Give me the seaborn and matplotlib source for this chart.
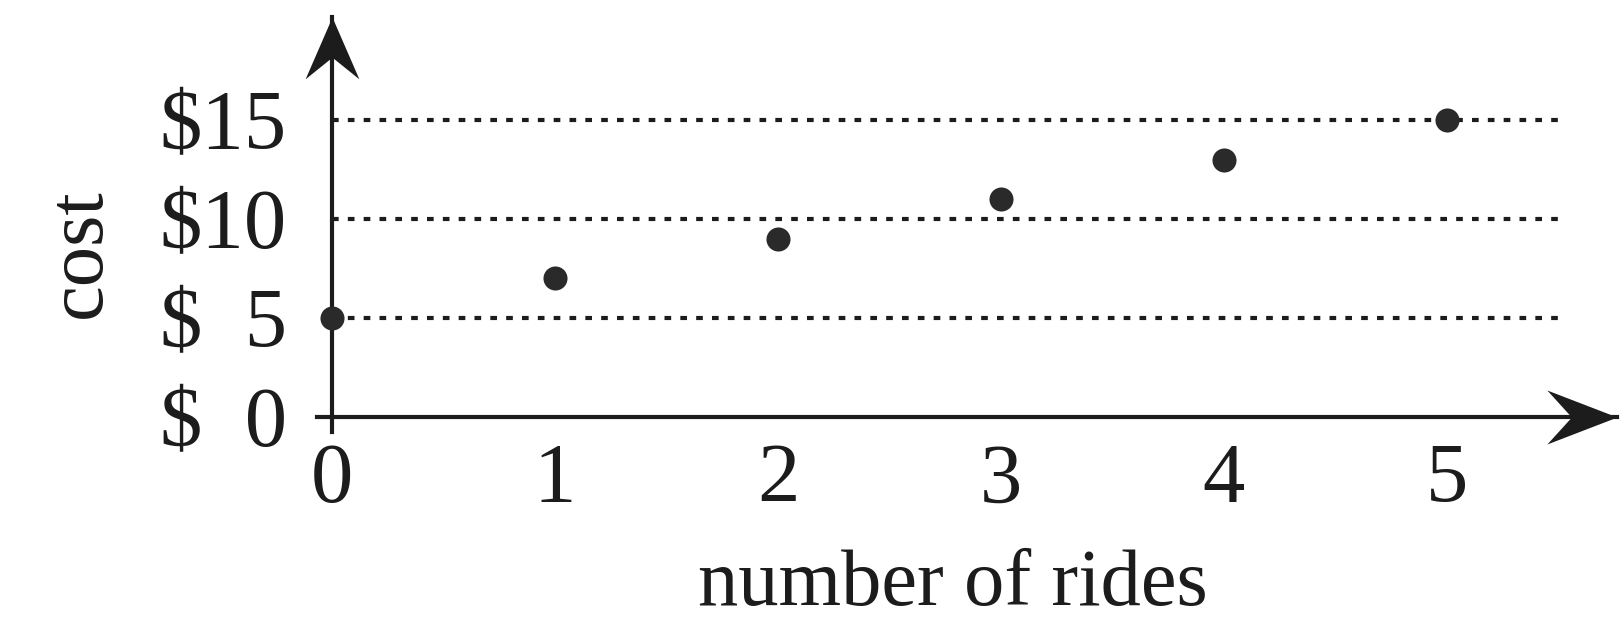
import matplotlib
matplotlib.use("Agg")
import matplotlib.pyplot as plt
from matplotlib.path import Path
import seaborn as sns
import pandas as pd

# Data
rides = [0, 1, 2, 3, 4, 5]
cost = [5, 7, 9, 11, 13, 15]
y_ticks = [0, 5, 10, 15]
y_tick_labels = ["$\u20070", "$\u20075", "$10", "$15"]
grid_levels = [5, 10, 15]

df = pd.DataFrame({"rides": rides, "cost": cost})

sns.set_style("white")
plt.rcParams["font.family"] = ["Liberation Serif", "DejaVu Serif"]
plt.rcParams["text.parse_math"] = False

ink = "#1c1c1c"
fig = plt.figure(figsize=(16.23, 6.26), dpi=100)
ax = fig.add_axes([0.1953, 0.3099, 0.801, 0.6629])

# dotted reference lines
ax.hlines(grid_levels, 0, 5.52, colors=ink, linewidth=3.0,
          linestyles=[(0, (1.6, 2.2))], zorder=1)

sns.scatterplot(data=df, x="rides", y="cost", s=300, color="#2a2a2a",
                edgecolor="#2a2a2a", linewidth=0, ax=ax, zorder=3, clip_on=False)

ax.set_xlim(-0.067, 5.762)
ax.set_ylim(-0.76, 20.2)

# axes through the origin
for side in ["top", "right"]:
    ax.spines[side].set_visible(False)
for side in ["left", "bottom"]:
    ax.spines[side].set_position(("data", 0))
    ax.spines[side].set_linewidth(3.0)
    ax.spines[side].set_color(ink)

# arrow heads
x_head = Path([(0, 0), (-2, 0.77), (-1.3, 0), (-2, -0.77), (0, 0)],
              [Path.MOVETO, Path.LINETO, Path.LINETO, Path.LINETO, Path.CLOSEPOLY])
y_head = Path([(0, 0), (0.87, -2), (0, -1.3), (-0.87, -2), (0, 0)],
              [Path.MOVETO, Path.LINETO, Path.LINETO, Path.LINETO, Path.CLOSEPOLY])
ax.plot([1], [0], marker=x_head, ms=101, color=ink, mew=0,
        transform=ax.get_yaxis_transform(), clip_on=False, zorder=4)
ax.plot([0], [1], marker=y_head, ms=89, color=ink, mew=0,
        transform=ax.get_xaxis_transform(), clip_on=False, zorder=4)

ax.set_xticks(rides)
ax.set_xticklabels([str(r) for r in rides])
ax.set_yticks(y_ticks)
ax.set_yticklabels(y_tick_labels)
ax.tick_params(axis="both", direction="inout", length=26, width=2.4,
               color=ink, labelcolor=ink, labelsize=61)
ax.tick_params(axis="y", pad=19.5)
ax.tick_params(axis="x", pad=6)

ax.set_xlabel("number of rides", fontsize=58, color=ink)
ax.xaxis.set_label_coords(0.489, -0.417)
ax.xaxis.label.set_va("baseline")
ax.set_ylabel("cost", fontsize=58, color=ink)
ax.yaxis.set_label_coords(-0.182, 0.43)
ax.yaxis.label.set_va("center")

fig.savefig("out.png", dpi=100)
